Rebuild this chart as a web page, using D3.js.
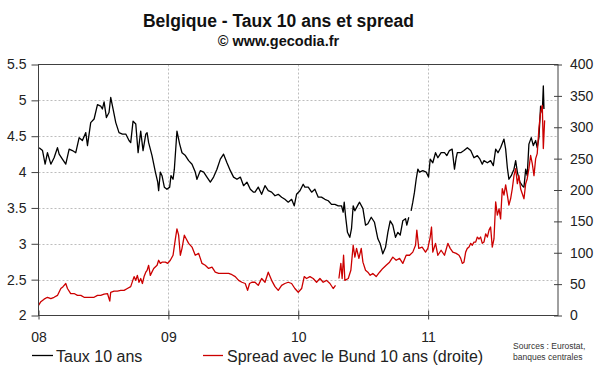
<!DOCTYPE html>
<html>
<head>
<meta charset="utf-8">
<script src="https://cdn.jsdelivr.net/npm/d3@7"></script>
<style>
  body { margin: 0; background: #fff; }
  svg { font-family: "Liberation Sans", Arial, sans-serif; }
</style>
</head>
<body>
<svg id="chart" width="600" height="372"></svg>
<script>
// taux 10 ans (%), axe gauche -- [année décimale, valeur], null = trou
var taux = [
  [2008.005,4.34],[2008.031,4.30],[2008.051,4.11],[2008.069,4.27],[2008.095,4.11],[2008.120,4.20],
  [2008.146,4.34],[2008.159,4.25],[2008.184,4.18],[2008.210,4.11],[2008.236,4.32],[2008.261,4.30],
  [2008.287,4.27],[2008.313,4.48],[2008.338,4.44],[2008.364,4.55],[2008.377,4.37],[2008.402,4.69],
  [2008.428,4.74],[2008.454,4.94],[2008.479,4.92],[2008.492,4.88],[2008.505,4.98],[2008.523,4.76],
  [2008.543,4.83],[2008.556,5.04],[2008.574,4.88],[2008.595,4.69],[2008.620,4.55],[2008.646,4.53],
  [2008.672,4.53],[2008.697,4.44],[2008.710,4.41],[2008.728,4.71],[2008.749,4.67],[2008.767,4.27],
  [2008.787,4.57],[2008.805,4.30],[2008.826,4.53],[2008.836,4.55],[2008.848,4.41],[2008.874,4.23],
  [2008.900,4.00],[2008.918,3.86],[2008.925,3.74],[2008.938,4.00],[2008.951,3.95],[2008.969,3.79],
  [2008.989,3.76],[2009.010,3.79],[2009.020,3.95],[2009.036,3.90],[2009.046,4.04],[2009.066,4.57],
  [2009.087,4.39],[2009.105,4.27],[2009.131,4.23],[2009.156,4.16],[2009.182,4.11],[2009.207,4.00],
  [2009.220,3.90],[2009.246,4.02],[2009.272,4.00],[2009.297,3.93],[2009.323,3.86],[2009.348,3.93],
  [2009.374,4.04],[2009.400,4.18],[2009.425,4.25],[2009.451,4.13],[2009.477,4.02],[2009.502,3.93],
  [2009.528,3.90],[2009.554,3.93],[2009.579,3.81],[2009.605,3.86],[2009.631,3.76],[2009.656,3.72],
  [2009.667,3.72],[2009.692,3.79],[2009.718,3.69],[2009.744,3.81],[2009.769,3.74],[2009.795,3.72],
  [2009.821,3.67],[2009.846,3.69],[2009.872,3.65],[2009.897,3.62],[2009.923,3.58],[2009.949,3.62],
  [2009.969,3.53],[2009.987,3.69],[2010.013,3.74],[2010.038,3.83],[2010.051,3.79],[2010.077,3.79],
  [2010.103,3.72],[2010.128,3.76],[2010.154,3.65],[2010.179,3.65],[2010.205,3.62],[2010.231,3.60],
  [2010.256,3.55],[2010.282,3.55],[2010.308,3.53],[2010.333,3.53],[2010.346,3.44],[2010.354,3.58],
  [2010.364,3.39],[2010.379,3.16],[2010.397,3.09],[2010.410,3.21],[2010.423,3.53],[2010.436,3.46],
  [2010.462,3.55],[2010.472,3.58],[2010.498,3.49],[2010.518,3.26],[2010.536,3.28],[2010.562,3.37],
  [2010.587,3.30],[2010.613,3.07],[2010.631,3.00],[2010.651,2.86],[2010.672,2.95],[2010.690,3.16],
  [2010.708,3.32],[2010.728,3.26],[2010.749,3.09],[2010.767,3.16],[2010.785,3.12],[2010.805,3.32],
  [2010.826,3.35],[2010.836,3.26],[2010.851,3.37],[2010.860,null],[2010.869,3.46],[2010.882,3.58],
  [2010.895,3.72],[2010.908,3.90],[2010.921,4.04],[2010.934,4.00],[2010.959,4.02],[2010.985,4.00],
  [2011.003,3.93],[2011.016,4.18],[2011.036,4.13],[2011.057,4.27],[2011.075,4.20],[2011.100,4.27],
  [2011.126,4.27],[2011.144,4.23],[2011.164,4.30],[2011.185,4.32],[2011.203,4.04],[2011.216,4.20],
  [2011.225,4.27],[2011.251,4.27],[2011.276,4.30],[2011.302,4.34],[2011.328,4.30],[2011.353,4.20],
  [2011.379,4.23],[2011.399,4.18],[2011.417,4.11],[2011.430,4.16],[2011.456,4.13],[2011.481,4.16],
  [2011.502,4.09],[2011.520,4.32],[2011.538,4.27],[2011.558,4.34],[2011.584,4.46],[2011.597,4.32],
  [2011.610,4.06],[2011.622,3.90],[2011.640,3.95],[2011.661,4.04],[2011.674,4.16],[2011.687,4.00],
  [2011.707,3.86],[2011.725,3.81],[2011.738,3.79],[2011.751,4.04],[2011.763,3.95],[2011.776,4.39],
  [2011.794,4.48],[2011.810,4.37],[2011.828,4.44],[2011.840,4.34],[2011.853,4.48],[2011.866,4.92],
  [2011.879,4.83],[2011.887,5.20],[2011.892,4.88]
];

// spread avec le Bund (pb), axe droit
var spread = [
  [2008.000,16],[2008.018,22],[2008.043,26],[2008.069,29],[2008.095,27],[2008.120,29],[2008.146,32],
  [2008.172,43],[2008.189,46],[2008.210,51],[2008.223,43],[2008.248,35],[2008.274,35],[2008.300,32],
  [2008.326,32],[2008.351,29],[2008.377,29],[2008.402,29],[2008.428,29],[2008.454,32],[2008.479,32],
  [2008.505,34],[2008.531,35],[2008.549,23],[2008.556,37],[2008.582,39],[2008.608,39],[2008.633,40],
  [2008.659,40],[2008.684,43],[2008.710,46],[2008.736,62],[2008.749,56],[2008.761,64],[2008.774,53],
  [2008.787,59],[2008.800,51],[2008.813,62],[2008.826,69],[2008.836,72],[2008.848,80],[2008.861,64],
  [2008.887,75],[2008.913,80],[2008.925,88],[2008.938,83],[2008.951,85],[2008.977,85],[2008.995,83],
  [2009.015,88],[2009.036,96],[2009.054,122],[2009.066,138],[2009.079,128],[2009.092,96],[2009.105,107],
  [2009.123,128],[2009.138,122],[2009.156,115],[2009.182,109],[2009.207,96],[2009.233,99],[2009.246,91],
  [2009.259,83],[2009.284,80],[2009.310,75],[2009.336,77],[2009.361,69],[2009.387,67],[2009.413,67],
  [2009.438,67],[2009.464,67],[2009.490,65],[2009.515,62],[2009.541,56],[2009.566,53],[2009.592,51],
  [2009.610,40],[2009.625,51],[2009.643,53],[2009.667,53],[2009.692,48],[2009.718,59],[2009.744,53],
  [2009.769,69],[2009.795,56],[2009.821,46],[2009.846,40],[2009.872,48],[2009.897,51],[2009.923,53],
  [2009.949,51],[2009.974,43],[2010.000,37],[2010.026,43],[2010.046,62],[2010.064,59],[2010.090,62],
  [2010.115,59],[2010.141,53],[2010.167,59],[2010.192,53],[2010.218,56],[2010.244,51],[2010.269,43],
  [2010.287,48],[2010.300,null],[2010.313,59],[2010.328,83],[2010.338,59],[2010.349,96],[2010.359,56],
  [2010.385,59],[2010.405,72],[2010.423,112],[2010.436,93],[2010.449,107],[2010.467,91],[2010.485,107],
  [2010.498,85],[2010.518,72],[2010.536,69],[2010.554,64],[2010.574,67],[2010.600,62],[2010.626,69],
  [2010.651,75],[2010.677,80],[2010.703,85],[2010.728,93],[2010.754,88],[2010.780,91],[2010.805,83],
  [2010.831,96],[2010.857,96],[2010.882,101],[2010.903,112],[2010.913,136],[2010.928,107],[2010.954,109],
  [2010.980,101],[2010.998,107],[2011.016,125],[2011.026,141],[2011.036,101],[2011.057,115],[2011.075,96],
  [2011.100,104],[2011.126,96],[2011.152,115],[2011.170,107],[2011.190,101],[2011.216,99],[2011.238,96],
  [2011.251,91],[2011.263,83],[2011.276,85],[2011.289,101],[2011.302,107],[2011.315,109],[2011.328,115],
  [2011.340,112],[2011.353,117],[2011.366,117],[2011.379,125],[2011.392,122],[2011.404,125],[2011.417,115],
  [2011.430,117],[2011.443,130],[2011.456,125],[2011.469,136],[2011.481,141],[2011.494,109],[2011.507,122],
  [2011.520,181],[2011.533,160],[2011.546,170],[2011.558,154],[2011.571,202],[2011.584,192],[2011.597,208],
  [2011.610,192],[2011.622,176],[2011.635,186],[2011.648,202],[2011.661,223],[2011.674,234],[2011.687,210],
  [2011.699,223],[2011.712,202],[2011.725,194],[2011.738,186],[2011.751,210],[2011.763,218],[2011.776,234],
  [2011.789,255],[2011.802,242],[2011.815,223],[2011.828,250],[2011.840,258],[2011.853,298],[2011.866,324],
  [2011.879,335],[2011.887,266],[2011.897,311]
];

var years = [2008, 2009, 2010, 2011];
var leftTicks = [2, 2.5, 3, 3.5, 4, 4.5, 5, 5.5];
var rightTicks = [0, 50, 100, 150, 200, 250, 300, 350, 400];

var svg = d3.select("#chart");

// bords de la zone de tracé ("top" est réservé par window)
var pLeft = 38.5, pRight = 558, pTop = 64.5, pBottom = 315.5;

var x = d3.scaleLinear().domain([2008, 2012]).range([pLeft, pRight]);
var yL = d3.scaleLinear().domain([2, 5.5]).range([pBottom, pTop]);
var yR = d3.scaleLinear().domain([0, 400]).range([pBottom, pTop]);

// titre
svg.append("text").attr("x", 278.5).attr("y", 27).attr("text-anchor", "middle")
    .style("font-weight", "bold").style("font-size", "17.5px").attr("fill", "#111")
    .text("Belgique - Taux 10 ans et spread");
svg.append("text").attr("x", 278.5).attr("y", 46).attr("text-anchor", "middle")
    .style("font-weight", "bold").style("font-size", "14.5px").attr("fill", "#111")
    .text("\u00a9 www.gecodia.fr");

// grille pointillée
var grid = svg.append("g").attr("stroke", "#bdbdbd").attr("stroke-dasharray", "2,2").attr("stroke-width", 1);
leftTicks.slice(1, -1).forEach(function(v) {
    grid.append("line").attr("x1", pLeft).attr("x2", pRight)
        .attr("y1", Math.round(yL(v)) + 0.5).attr("y2", Math.round(yL(v)) + 0.5);
});
years.slice(1).forEach(function(v) {
    grid.append("line").attr("y1", pTop).attr("y2", pBottom)
        .attr("x1", Math.round(x(v)) + 0.5).attr("x2", Math.round(x(v)) + 0.5);
});

// courbes
var lineL = d3.line().defined(function(d) { return d[1] != null; })
    .x(function(d) { return x(d[0]); }).y(function(d) { return yL(d[1]); });
var lineR = d3.line().defined(function(d) { return d[1] != null; })
    .x(function(d) { return x(d[0]); }).y(function(d) { return yR(d[1]); });

svg.append("path").datum(taux).attr("d", lineL)
    .attr("fill", "none").attr("stroke", "#000").attr("stroke-width", 1.3).attr("stroke-linejoin", "round");
svg.append("path").datum(spread).attr("d", lineR)
    .attr("fill", "none").attr("stroke", "#cc0000").attr("stroke-width", 1.3).attr("stroke-linejoin", "round");

// cadre
svg.append("rect").attr("x", pLeft).attr("y", pTop).attr("width", pRight - pLeft).attr("height", pBottom - pTop)
    .attr("fill", "none").attr("stroke", "#404040").attr("stroke-width", 1);

// axes
var axL = svg.append("g").attr("transform", "translate(" + pLeft + ",0)")
    .call(d3.axisLeft(yL).tickValues(leftTicks).tickSize(7).tickPadding(5).tickFormat(d3.format("")));
var axR = svg.append("g").attr("transform", "translate(" + pRight + ",0)")
    .call(d3.axisRight(yR).tickValues(rightTicks).tickSize(4).tickPadding(8));
axR.selectAll(".tick line").attr("x1", -4);
var axB = svg.append("g").attr("transform", "translate(0," + pBottom + ")")
    .call(d3.axisBottom(x).tickValues(years).tickSize(4).tickPadding(13)
        .tickFormat(function(d) { return String(d).slice(2); }));
axB.selectAll(".tick line").attr("y1", -5);

[axL, axR, axB].forEach(function(a) {
    a.select(".domain").remove();
    a.selectAll(".tick line").attr("stroke", "#404040");
    a.selectAll("text").style("font-size", "14px").attr("fill", "#222")
        .style("font-family", "'Liberation Sans', Arial, sans-serif");
});

// légende
var leg = svg.append("g").style("font-size", "16px").attr("fill", "#222");
leg.append("line").attr("x1", 32).attr("x2", 53).attr("y1", 355.5).attr("y2", 355.5)
    .attr("stroke", "#000").attr("stroke-width", 1.3);
leg.append("text").attr("x", 56).attr("y", 361.5).text("Taux 10 ans");
leg.append("line").attr("x1", 203).attr("x2", 223).attr("y1", 355.5).attr("y2", 355.5)
    .attr("stroke", "#cc0000").attr("stroke-width", 1.3);
leg.append("text").attr("x", 227).attr("y", 361.5).text("Spread avec le Bund 10 ans (droite)");

// sources
var src = svg.append("g").style("font-size", "8.5px").attr("fill", "#333");
src.append("text").attr("x", 513).attr("y", 349).text("Sources : Eurostat,");
src.append("text").attr("x", 513).attr("y", 360).text("banques centrales");
</script>
</body>
</html>
